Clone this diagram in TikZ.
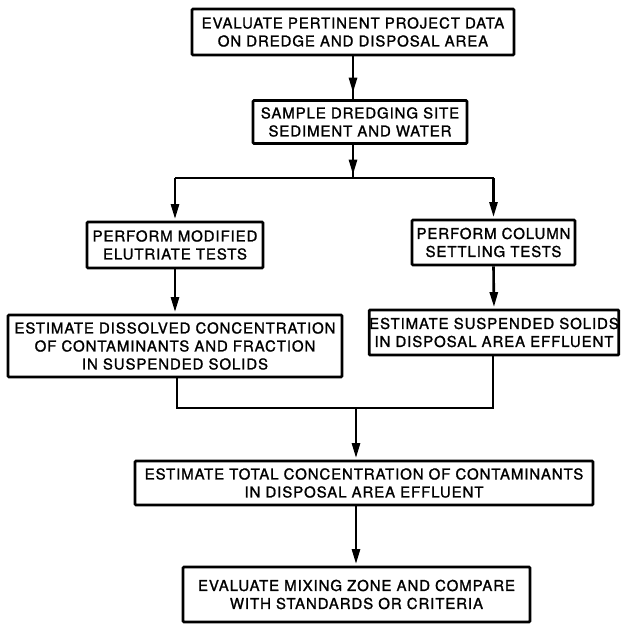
\documentclass[tikz,border=0pt]{standalone}
\usepackage{fontspec}
\setmainfont{TeX Gyre Heros}
\newfontfamily\boxfont[LetterSpace=6,FakeBold=1.3]{TeX Gyre Heros}
\usetikzlibrary{arrows.meta,decorations.markings}
\begin{document}
\begin{tikzpicture}[x=1pt,y=-1pt,
 box/.style={draw,line width=2.8pt,inner sep=0pt,align=center,rounded corners=1pt,
   font=\boxfont\fontsize{15}{18}\selectfont},
 conn/.style={line width=2.6pt},
 tipend/.style={-{Triangle[length=15pt,width=8pt]}, shorten >=1.5pt},
 midtip/.style={decoration={markings,mark=at position #1 with {\arrow{Triangle[length=15pt,width=8pt]}}},postaction=decorate},
]
\useasboundingbox (0,0) rectangle (621,625);
\node[box,minimum width=322pt,minimum height=46pt] (b1) at (353,32)
  {EVALUATE PERTINENT PROJECT DATA\\ON DREDGE AND DISPOSAL AREA};
\node[box,minimum width=214pt,minimum height=43pt] (b2) at (360,122)
  {SAMPLE DREDGING SITE\\SEDIMENT AND WATER};
\node[box,minimum width=176pt,minimum height=46pt] (b3) at (175,245)
  {PERFORM MODIFIED\\ELUTRIATE TESTS};
\node[box,minimum width=163pt,minimum height=45pt] (b4) at (493.5,242.5)
  {PERFORM COLUMN\\SETTLING TESTS};
\node[box,minimum width=334pt,minimum height=62pt] (b5) at (175,346)
  {ESTIMATE DISSOLVED CONCENTRATION\\OF CONTAMINANTS AND FRACTION\\IN SUSPENDED SOLIDS};
\node[box,minimum width=248pt,minimum height=45pt] (b6) at (494,332.5)
  {ESTIMATE SUSPENDED SOLIDS\\IN DISPOSAL AREA EFFLUENT};
\node[box,minimum width=458pt,minimum height=44pt] (b7) at (364,483)
  {ESTIMATE TOTAL CONCENTRATION OF CONTAMINANTS\\IN DISPOSAL AREA EFFLUENT};
\node[box,minimum width=347pt,minimum height=55pt] (b8) at (356.5,594.5)
  {EVALUATE MIXING ZONE AND COMPARE\\WITH STANDARDS OR CRITERIA};

\coordinate (split) at (353,178);
\coordinate (splitL) at (175,178);
\coordinate (splitR) at (493.5,178);
\coordinate (joinL) at (177,408);
\coordinate (joinR) at (493,408);
\coordinate (joinC) at (356,408);

\draw[conn,midtip=0.85] (b1.south -| split) -- (b2.north -| split);
\draw[conn,midtip=0.9] (b2.south -| split) -- (split);
\draw[conn] (splitL) -- (splitR);
\draw[conn,tipend] (splitL) -- (b3.north);
\draw[conn,tipend] (splitR) -- (b4.north);
\draw[conn,tipend] (b3.south) -- (b5.north);
\draw[conn,tipend] (b4.south) -- (b6.north);
\draw[conn] (b5.south -| joinL) -- (joinL) -- (joinR) -- (b6.south -| joinR);
\draw[conn,tipend] (joinC) -- (b7.north -| joinC);
\draw[conn,tipend] (b7.south -| joinC) -- (b8.north -| joinC);
\end{tikzpicture}
\end{document}
